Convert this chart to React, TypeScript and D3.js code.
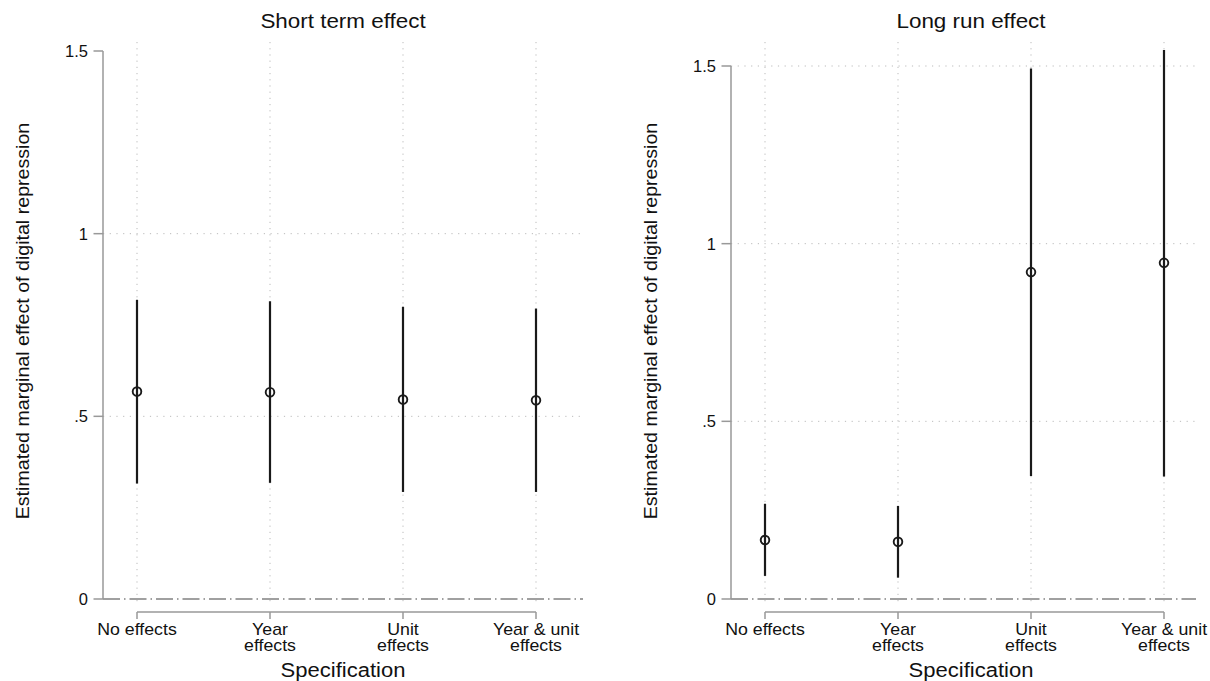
import React from 'react';
import * as d3 from 'd3';

// categories (second line of label after the '|')
const specLabels = ['No effects', 'Year|effects', 'Unit|effects', 'Year & unit|effects'];

// short term effect
const shortEst = [0.568, 0.566, 0.546, 0.544];
const shortLo = [0.316, 0.318, 0.293, 0.293];
const shortHi = [0.819, 0.815, 0.8, 0.795];

// long run effect
const longEst = [0.166, 0.161, 0.92, 0.946];
const longLo = [0.065, 0.06, 0.346, 0.345];
const longHi = [0.268, 0.262, 1.493, 1.545];

const yTicks = [0, 0.5, 1, 1.5];
const yTickLabels = ['0', '.5', '1', '1.5'];

const FONT = 'Liberation Sans, Arial, sans-serif';

// text a bit wider than Arial, like the original graph font
function Wide({ x, y, size, sx, children }) {
  return (
    <text transform={`translate(${x},${y}) scale(${sx},1)`} textAnchor="middle" fontSize={size} fill="#111">
      {children}
    </text>
  );
}

function Panel({ title, est, lo, hi, axisX, catRange, yTop, plotRight, gridSkip, centerX }) {
  const y = d3.scaleLinear().domain([0, 1.5]).range([599, yTop]);
  const x = d3.scalePoint().domain(specLabels).range(catRange);
  const gridTop = 42;
  const gridBottom = 605;
  const xAxisY = 612;

  return (
    <g>
      <Wide x={centerX} y={28} size={19.5} sx={1.15}>{title}</Wide>
      {/* vertical grid */}
      {specLabels.map((c) => (
        <line key={c} x1={x(c)} x2={x(c)} y1={gridTop} y2={gridBottom}
          stroke="#bbb" strokeWidth={1} strokeDasharray="1.2 5" />
      ))}
      {/* horizontal grid */}
      {yTicks.filter((t) => t > 0 && !gridSkip.includes(t)).map((t) => (
        <line key={t} x1={axisX} x2={plotRight} y1={y(t)} y2={y(t)}
          stroke="#bbb" strokeWidth={1} strokeDasharray="1.2 5.5" />
      ))}
      {/* zero reference line */}
      <line x1={axisX} x2={plotRight} y1={y(0)} y2={y(0)}
        stroke="#a0a0a0" strokeWidth={1.8} strokeDasharray="17 4 1.5 4" />
      {/* y axis */}
      <line x1={axisX} x2={axisX} y1={y(1.5)} y2={y(0)} stroke="#999" strokeWidth={1.5} />
      {yTicks.map((t, i) => (
        <g key={t}>
          <line x1={axisX - 9.5} x2={axisX} y1={y(t)} y2={y(t)} stroke="#999" strokeWidth={1.5} />
          <text x={axisX - 15} y={y(t) + 6} textAnchor="end" fontSize={16.5} fill="#111">
            {yTickLabels[i]}
          </text>
        </g>
      ))}
      <text transform={`translate(${axisX - 74},${321}) rotate(-90) scale(1.05,1)`} textAnchor="middle"
        fontSize={18.7} fill="#111">
        Estimated marginal effect of digital repression
      </text>
      {/* x axis */}
      <line x1={catRange[0]} x2={catRange[1]} y1={xAxisY} y2={xAxisY} stroke="#999" strokeWidth={1.5} />
      {specLabels.map((c) => (
        <g key={c}>
          <line x1={x(c)} x2={x(c)} y1={xAxisY} y2={xAxisY + 7} stroke="#999" strokeWidth={1.5} />
          {c.split('|').map((s, k) => (
            <Wide key={k} x={x(c)} y={634.5 + k * 16.2} size={16} sx={1.11}>{s}</Wide>
          ))}
        </g>
      ))}
      <Wide x={centerX} y={677} size={19.5} sx={1.13}>Specification</Wide>
      {/* confidence intervals and estimates */}
      {specLabels.map((c, i) => (
        <g key={c}>
          <line x1={x(c)} x2={x(c)} y1={y(lo[i])} y2={y(hi[i])} stroke="#1a1a1a" strokeWidth={2.2} />
          <circle cx={x(c)} cy={y(est[i])} r={4.3} fill="none" stroke="#1a1a1a" strokeWidth={1.9} />
        </g>
      ))}
    </g>
  );
}

export default function App() {
  return (
    <svg width={1210} height={681} style={{ position: 'absolute', left: 0, top: 0, background: '#fff' }}
      fontFamily={FONT}>
      <rect width={1210} height={681} fill="#fff" />
      <Panel title="Short term effect" est={shortEst} lo={shortLo} hi={shortHi}
        axisX={103} catRange={[137, 536]} yTop={51} plotRight={583} gridSkip={[1.5]}
        centerX={343} />
      <Panel title="Long run effect" est={longEst} lo={longLo} hi={longHi}
        axisX={731} catRange={[765, 1164]} yTop={66} plotRight={1196} gridSkip={[]}
        centerX={971} />
    </svg>
  );
}
